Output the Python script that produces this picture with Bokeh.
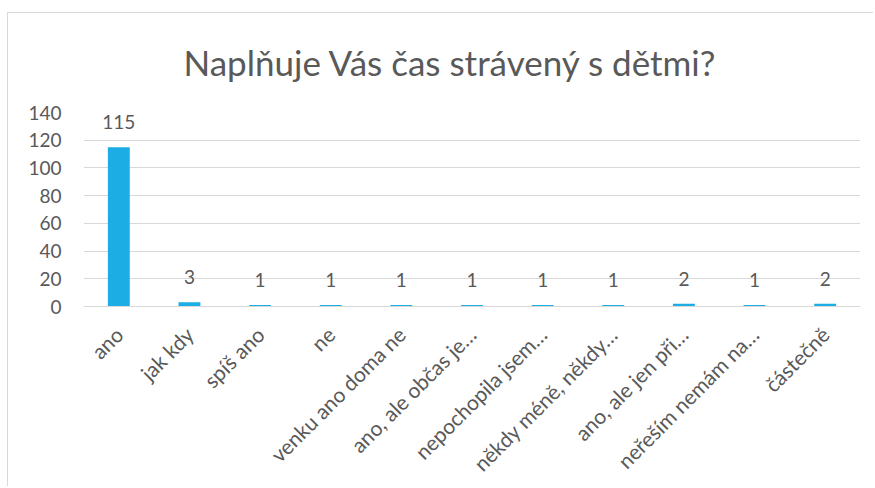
from bokeh.plotting import figure
from bokeh.models import ColumnDataSource, Range1d, FactorRange, FixedTicker, LabelSet
from bokeh.core.properties import value
from bokeh.embed import file_html
from bokeh.resources import INLINE
import math

categories = ["ano", "jak kdy", "spíš ano", "ne", "venku ano doma ne",
              "ano, ale občas je…", "nepochopila jsem…", "někdy méně, někdy…",
              "ano, ale jen při…", "neřeším nemám na…", "částečně"]
counts = [115, 3, 1, 1, 1, 1, 1, 1, 2, 1, 2]
y_ticks = [0, 20, 40, 60, 80, 100, 120, 140]
title_text = "Naplňuje Vás čas strávený s dětmi?"

FONT = "Lato"
TXT = "#595959"
GRID = "#d9d9d9"
BAR = "#1BADE3"

src = ColumnDataSource(dict(cat=categories, val=counts, lab=[str(v) for v in counts]))

p = figure(width=866, height=474, x_range=FactorRange(*categories, range_padding=0),
           y_range=Range1d(0, 140), output_backend="svg", toolbar_location=None,
           min_border_left=75, min_border_right=14, min_border_top=98, min_border_bottom=179)
p.styles = {"margin-top": "12px", "margin-left": "7px",
            "border-top": "1px solid #d9d9d9", "border-left": "1px solid #d9d9d9"}

p.title.text = title_text
p.title.align = "left"
p.title.vertical_align = "top"
p.title.text_font = FONT
p.title.text_font_size = "35px"
p.title.text_font_style = "normal"
p.title.text_color = TXT
p.title.standoff = 55
p.title.offset = 100

p.vbar(x="cat", top="val", width=0.31, source=src, color=BAR, line_color=None)

labels = LabelSet(x="cat", y="val", text="lab", source=src, text_align="center",
                  text_baseline="alphabetic", y_offset=18, text_font=value(FONT),
                  text_font_size="19px", text_color=TXT)
p.add_layout(labels)

p.outline_line_color = None
p.xgrid.grid_line_color = None
p.ygrid.grid_line_color = GRID
p.ygrid.ticker = FixedTicker(ticks=y_ticks)

p.yaxis.ticker = FixedTicker(ticks=y_ticks)
p.yaxis.axis_line_color = None
p.yaxis.major_tick_line_color = None
p.yaxis.minor_tick_line_color = None
p.yaxis.major_tick_out = 0
p.yaxis.major_label_standoff = 22
p.yaxis.major_label_text_font = FONT
p.yaxis.major_label_text_font_size = "19px"
p.yaxis.major_label_text_color = TXT

p.xaxis.axis_line_color = GRID
p.xaxis.major_tick_line_color = None
p.xaxis.major_tick_out = 0
p.xaxis.major_label_orientation = math.pi / 4
p.xaxis.major_label_standoff = 24
p.xaxis.major_label_text_font = FONT
p.xaxis.major_label_text_font_size = "21px"
p.xaxis.major_label_text_color = TXT

open("out.html", "w").write(file_html(p, INLINE))
